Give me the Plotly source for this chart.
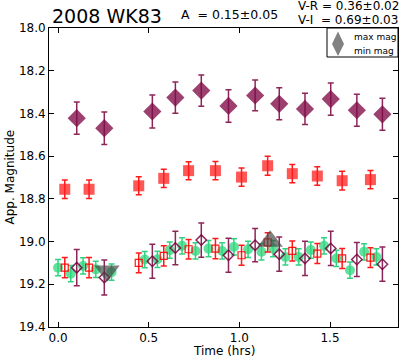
import plotly.graph_objects as go

# ---- data ----
t_v = [0.103, 0.255, 0.52, 0.647, 0.79, 0.94, 1.087, 1.22, 1.362, 1.504, 1.648, 1.789]
mag_v = [18.422, 18.469, 18.391, 18.326, 18.293, 18.365, 18.316, 18.355, 18.379, 18.333, 18.385, 18.404]
err_v = [0.076, 0.076, 0.077, 0.073, 0.073, 0.076, 0.072, 0.075, 0.073, 0.075, 0.075, 0.075]

t_r = [0.037, 0.171, 0.445, 0.583, 0.72, 0.868, 1.012, 1.156, 1.292, 1.43, 1.567, 1.723]
mag_r = [18.755, 18.755, 18.739, 18.704, 18.668, 18.668, 18.698, 18.645, 18.682, 18.693, 18.715, 18.710]
err_r = [0.043, 0.043, 0.042, 0.043, 0.042, 0.043, 0.043, 0.044, 0.043, 0.043, 0.044, 0.043]

mag_r_shift = [19.122, 19.122, 19.100, 19.067, 19.036, 19.033, 19.064, 19.004, 19.044, 19.056, 19.079, 19.075]
err_r_shift = [0.047, 0.047, 0.046, 0.047, 0.046, 0.047, 0.047, 0.045, 0.047, 0.047, 0.047, 0.046]

mag_v_shift = [19.122, 19.168, 19.092, 19.030, 18.993, 19.064, 19.017, 19.059, 19.079, 19.032, 19.084, 19.106]
err_v_shift = [0.085, 0.082, 0.080, 0.078, 0.080, 0.080, 0.078, 0.080, 0.080, 0.080, 0.080, 0.080]

t_i = [0.0, 0.07, 0.138, 0.208, 0.295, 0.478, 0.548, 0.616, 0.684, 0.758, 0.83, 0.905,
       0.97, 1.048, 1.122, 1.186, 1.254, 1.327, 1.394, 1.467, 1.535, 1.61, 1.688, 1.756]
mag_i_shift = [19.122, 19.150, 19.114, 19.130, 19.143, 19.084, 19.083, 19.040, 19.020, 19.044, 19.033, 19.044,
               19.025, 19.036, 19.048, 19.033, 19.072, 19.072, 19.040, 19.020, 19.079, 19.134, 19.048, 19.072]
err_i_shift = [0.038] * len(t_i)

t_max, mag_max = [1.17], [18.998]
t_min, mag_min = [0.27], [19.138]

x_ticks = [0.0, 0.5, 1.0, 1.5]
y_ticks = [18.0, 18.2, 18.4, 18.6, 18.8, 19.0, 19.2, 19.4]

legend_labels = ["max mag", "min mag"]
NB = "\u00a0"
title_text = "2008 WK83"
amp_text = f"A{NB}{NB}={NB}0.15±0.05"
vr_text = f"V-R{NB}={NB}0.36±0.02"
vi_text = f"V-I{NB}{NB}={NB}0.69±0.03"

FONT = "DejaVu Sans"
PURPLE = "rgba(128,10,70,0.78)"
PURPLE_E = "rgba(120,0,60,0.85)"
RED = "rgba(255,30,30,0.75)"
RED_E = "rgba(255,0,0,0.9)"
GREEN = "rgba(45,215,125,0.75)"
GREEN_E = "rgba(25,205,115,0.9)"
GRAY = "rgba(70,70,70,0.68)"

fig = go.Figure()


def add(t, m, e, symbol, size, color, ecolor, line=None, ew=1.5):
    fig.add_trace(go.Scatter(
        x=t, y=m, mode="markers",
        error_y=dict(type="data", array=e, visible=True, color=ecolor, thickness=ew, width=3),
        marker=dict(symbol=symbol, size=size, color=color,
                    line=line or dict(width=0)),
        showlegend=False,
    ))


add(t_i, mag_i_shift, err_i_shift, "circle", 10, GREEN, GREEN_E)
add(t_r, mag_r_shift, err_r_shift, "square-open", 7, RED_E, RED_E, line=dict(width=1.2, color=RED_E))
add(t_v, mag_v_shift, err_v_shift, "diamond-open", 8, PURPLE_E, PURPLE_E, line=dict(width=1.5, color=PURPLE_E))
add(t_r, mag_r, err_r, "square", 11, RED, RED_E)
add(t_v, mag_v, err_v, "diamond", 14, PURPLE, PURPLE_E)

fig.add_trace(go.Scatter(x=t_max, y=mag_max, mode="markers", name=legend_labels[0],
                         marker=dict(symbol="triangle-up", size=22, color=GRAY), showlegend=False))
fig.add_trace(go.Scatter(x=t_min, y=mag_min, mode="markers", name=legend_labels[1],
                         marker=dict(symbol="triangle-down", size=22, color=GRAY), showlegend=False))

axis_common = dict(showline=True, linecolor="black", linewidth=1, mirror="ticks",
                   ticks="inside", ticklen=5, tickcolor="black", showgrid=False, zeroline=False,
                   tickfont=dict(family=FONT, size=12, color="black"))

fig.update_xaxes(range=[-0.05, 1.875], tickvals=x_ticks,
                 ticktext=[f"{v:.1f}" for v in x_ticks], **axis_common)
fig.update_yaxes(range=[19.4, 18.0], tickvals=y_ticks,
                 ticktext=[f"{v:.1f}" for v in y_ticks], **axis_common)

L, R, T, B = 49, 3, 28, 35
W, H = 401, 362
pw, ph = W - L - R, H - T - B


def px(x):
    return (x - L) / pw


def py(y):
    return 1 + (T - y) / ph


ann = [
    dict(text=title_text, x=px(50), y=py(16), xanchor="left", yanchor="middle", font=dict(size=19)),
    dict(text=amp_text, x=px(179), y=py(14), xanchor="left", yanchor="middle", font=dict(size=12.5)),
    dict(text=vr_text, x=px(296), y=py(6.5), xanchor="left", yanchor="middle", font=dict(size=12)),
    dict(text=vi_text, x=px(296), y=py(20.5), xanchor="left", yanchor="middle", font=dict(size=12)),
    dict(text="Time (hrs)", x=px(224), y=py(351), xanchor="center", yanchor="middle", font=dict(size=12)),
    dict(text="App. Magnitude", x=px(9), y=0.5, xanchor="center", yanchor="middle", textangle=-90,
         font=dict(size=12)),
    dict(text=legend_labels[0], x=px(352), y=py(37.5), xanchor="left", yanchor="middle", font=dict(size=9)),
    dict(text=legend_labels[1], x=px(352), y=py(50.5), xanchor="left", yanchor="middle", font=dict(size=9)),
]
for a in ann:
    a.update(xref="paper", yref="paper", showarrow=False)
    a["font"].update(family=FONT, color="black")


def tri(x0, x1, yb, ya):
    xm = (x0 + x1) / 2
    return f"M {px(x0)} {py(yb)} L {px(x1)} {py(yb)} L {px(xm)} {py(ya)} Z"


shapes = [
    dict(type="rect", xref="paper", yref="paper", x0=px(327), x1=px(398), y0=py(28), y1=py(57),
         line=dict(color="black", width=1), fillcolor="white"),
    dict(type="path", xref="paper", yref="paper", path=tri(332, 344, 44, 31.5),
         fillcolor=GRAY, line=dict(width=0)),
    dict(type="path", xref="paper", yref="paper", path=tri(332, 344, 44, 56),
         fillcolor=GRAY, line=dict(width=0)),
]

fig.update_layout(
    width=W, height=H, margin=dict(l=L, r=R, t=T, b=B),
    plot_bgcolor="white", paper_bgcolor="white",
    annotations=ann, shapes=shapes, showlegend=False,
)

fig.write_html("out.html", config={"displayModeBar": False},
               post_script="document.body.style.margin='0';document.body.style.overflow='hidden';")
